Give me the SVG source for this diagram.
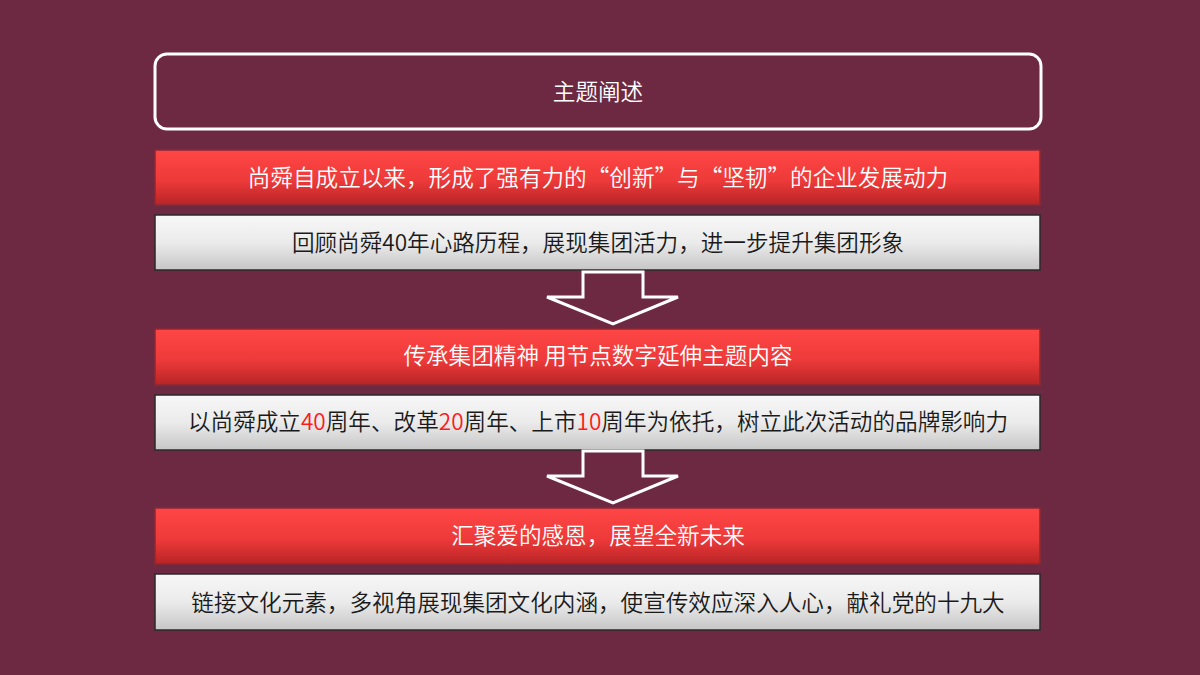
<svg xmlns="http://www.w3.org/2000/svg" width="1200" height="675" viewBox="0 0 1200 675">
<defs>
<linearGradient id="red" x1="0" y1="0" x2="0" y2="1">
<stop offset="0" stop-color="#ff4646"/>
<stop offset="0.55" stop-color="#ee3a3a"/>
<stop offset="1" stop-color="#b82426"/>
</linearGradient>
<linearGradient id="gray" x1="0" y1="0" x2="0" y2="1">
<stop offset="0" stop-color="#f7f7f7"/>
<stop offset="0.5" stop-color="#ebebeb"/>
<stop offset="1" stop-color="#c6c6c6"/>
</linearGradient>
<style>
text{font-family:"Noto Sans CJK SC","Noto Sans",sans-serif;font-size:22.6px;font-weight:350;text-anchor:middle;dominant-baseline:central}
.w{fill:#ffffff}
.k{fill:#1a1a1a}
.r{fill:#ff1a1a}
.bar{fill:url(#red);stroke:#8a2a34;stroke-width:1.5}
.box{fill:url(#gray);stroke:#2a2a2a;stroke-width:1.5}
.arrow{fill:none;stroke:#ffffff;stroke-width:3;stroke-linejoin:miter}
</style>
</defs>
<rect width="1200" height="675" fill="#6d2942"/>
<g id="title">
<rect x="155" y="54" width="886" height="75" rx="12" fill="none" stroke="#ffffff" stroke-width="3"/>
<text class="w" x="598" y="90">主题阐述</text>
</g>
<g id="red1">
<rect class="bar" x="155" y="150" width="885" height="55"/>
<text class="w" x="598" y="176">尚舜自成立以来，形成了强有力的“创新”与“坚韧”的企业发展动力</text>
</g>
<g id="gray1">
<rect class="box" x="155" y="215" width="885" height="55"/>
<text class="k" x="598" y="241">回顾尚舜40年心路历程，展现集团活力，进一步提升集团形象</text>
</g>
<g id="red2">
<rect class="bar" x="155" y="329" width="885" height="56"/>
<text class="w" x="598" y="354">传承集团精神 用节点数字延伸主题内容</text>
</g>
<g id="gray2">
<rect class="box" x="155" y="395" width="885" height="55"/>
<text class="k" x="598" y="420">以尚舜成立<tspan class="r">40</tspan>周年、改革<tspan class="r">20</tspan>周年、上市<tspan class="r">10</tspan>周年为依托，树立此次活动的品牌影响力</text>
</g>
<g id="red3">
<rect class="bar" x="155" y="508" width="885" height="56"/>
<text class="w" x="598" y="534">汇聚爱的感恩，展望全新未来</text>
</g>
<g id="gray3">
<rect class="box" x="155" y="574" width="885" height="56"/>
<text class="k" x="598" y="601">链接文化元素，多视角展现集团文化内涵，使宣传效应深入人心，献礼党的十九大</text>
</g>
<g id="connectors">
<path class="arrow" d="M583 272 H643 V297 H678 L613 324 L547 297 H583 Z"/>
<path class="arrow" d="M583 451 H643 V476 H678 L613 503 L547 476 H583 Z"/>
</g>
</svg>
